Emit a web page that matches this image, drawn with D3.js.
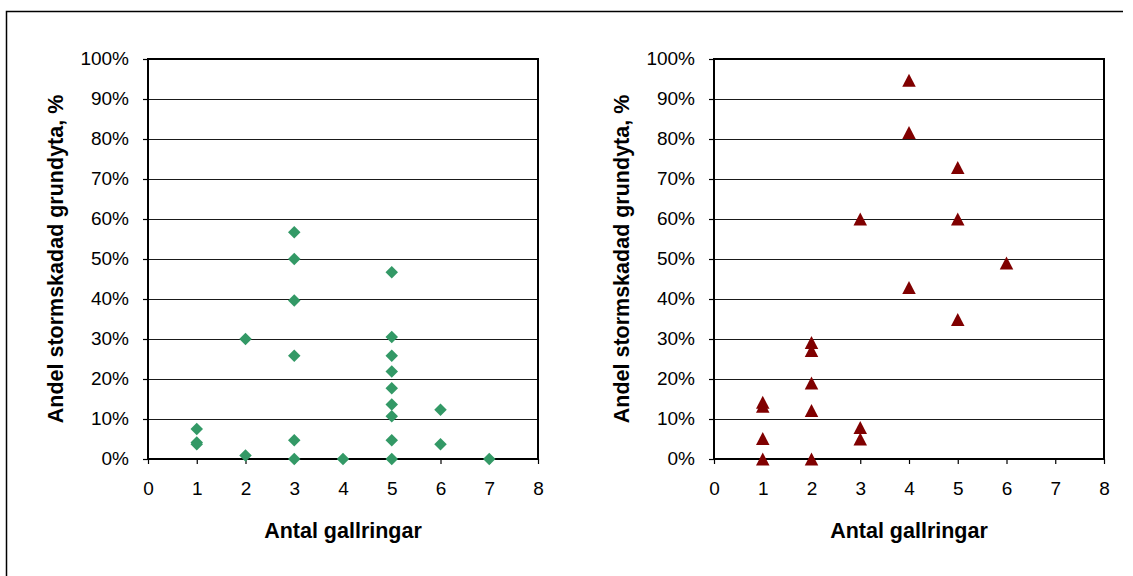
<!DOCTYPE html>
<html>
<head>
<meta charset="utf-8">
<script src="https://cdn.jsdelivr.net/npm/d3@7"></script>
<style>
  html, body { margin: 0; padding: 0; background: #fff; }
  svg { display: block; }
  text { font-family: "Liberation Sans", Arial, sans-serif; fill: #000; }
</style>
</head>
<body>
<svg id="chart" width="1133" height="576"></svg>
<script>
// Antal gallringar (number of thinnings) and share of storm-damaged basal area
const xTickValues = [0, 1, 2, 3, 4, 5, 6, 7, 8];
const yTickValues = [0, 0.1, 0.2, 0.3, 0.4, 0.5, 0.6, 0.7, 0.8, 0.9, 1.0];

const gallringarA = [1, 1, 1, 2, 2, 3, 3, 3, 3, 3, 3, 4, 5, 5, 5, 5, 5, 5, 5, 5, 5, 6, 6, 7];
const andelA = [0.075, 0.041, 0.037, 0.300, 0.009, 0.567, 0.500, 0.396, 0.258, 0.047, 0.0, 0.0,
                0.467, 0.305, 0.258, 0.219, 0.177, 0.136, 0.107, 0.047, 0.0, 0.123, 0.037, 0.0];

const gallringarB = [1, 1, 1, 1, 2, 2, 2, 2, 2, 3, 3, 3, 4, 4, 4, 5, 5, 5, 6];
const andelB = [0.142, 0.132, 0.051, 0.0, 0.291, 0.271, 0.190, 0.121, 0.0, 0.600, 0.079, 0.050,
                0.947, 0.816, 0.429, 0.729, 0.600, 0.349, 0.490];

const xTitle = "Antal gallringar";
const yTitle = "Andel stormskadad grundyta, %";

const svg = d3.select("#chart");

// outer chart frame (top and left edges)
svg.append("path")
  .attr("d", "M6.5,576 V11.5 H1123")
  .attr("fill", "none")
  .attr("stroke", "#000")
  .attr("stroke-width", 1.5);

function panel(opts) {
  const { left, right, top, bottom, xs, ys, marker, color } = opts;
  const g = svg.append("g");
  const x = d3.scaleLinear().domain([0, 8]).range([left, right]);
  const y = d3.scaleLinear().domain([0, 1]).range([bottom, top]);

  // horizontal gridlines
  g.append("g").selectAll("line")
    .data(yTickValues.filter(v => v > 0 && v < 1))
    .join("line")
    .attr("x1", left).attr("x2", right)
    .attr("y1", d => Math.round(y(d)) + 0.5).attr("y2", d => Math.round(y(d)) + 0.5)
    .attr("stroke", "#1a1a1a").attr("stroke-width", 1);

  // y axis
  const yAxis = d3.axisLeft(y).tickValues(yTickValues)
    .tickFormat(d3.format(".0%")).tickSize(5).tickPadding(14);
  const ga = g.append("g").attr("transform", `translate(${left},0)`).call(yAxis);
  ga.select(".domain").remove();
  ga.selectAll(".tick line").attr("stroke", "#000").attr("stroke-width", 1.2);
  ga.selectAll(".tick text").attr("font-size", 19).attr("font-family", "Liberation Sans, Arial, sans-serif")
    .attr("dy", "0.29em");

  // x axis
  const xAxis = d3.axisBottom(x).tickValues(xTickValues).tickSize(5).tickPadding(18);
  const gx = g.append("g").attr("transform", `translate(0,${bottom})`).call(xAxis);
  gx.select(".domain").remove();
  gx.selectAll(".tick line").attr("stroke", "#000").attr("stroke-width", 1.2);
  gx.selectAll(".tick text").attr("font-size", 19).attr("font-family", "Liberation Sans, Arial, sans-serif");

  // plot area border
  g.append("rect")
    .attr("x", left).attr("y", top)
    .attr("width", right - left).attr("height", bottom - top)
    .attr("fill", "none").attr("stroke", "#000").attr("stroke-width", 2);

  // markers
  const pts = xs.map((v, i) => ({ gx: v, val: ys[i] }));
  if (marker === "diamond") {
    const sym = d3.symbol().type(d3.symbolDiamond2).size(100);
    g.append("g").selectAll("path").data(pts).join("path")
      .attr("transform", d => `translate(${x(d.gx)},${y(d.val)})`)
      .attr("d", sym)
      .attr("fill", color);
  } else {
    const w = 13.5, h = 13;
    g.append("g").selectAll("path").data(pts).join("path")
      .attr("transform", d => `translate(${x(d.gx)},${y(d.val)})`)
      .attr("d", `M0,${-h / 2} L${w / 2},${h / 2} L${-w / 2},${h / 2} Z`)
      .attr("fill", color);
  }

  // axis titles
  g.append("text")
    .attr("x", (left + right) / 2).attr("y", bottom + 78.5)
    .attr("text-anchor", "middle")
    .attr("font-size", 21.5).attr("font-weight", "bold")
    .text(xTitle);
  g.append("text")
    .attr("transform", `translate(${opts.yTitleX},${(top + bottom) / 2}) rotate(-90)`)
    .attr("text-anchor", "middle")
    .attr("font-size", 21.5).attr("font-weight", "bold")
    .text(yTitle);
}

panel({ left: 148, right: 538, top: 59, bottom: 459,
        xs: gallringarA, ys: andelA, marker: "diamond", color: "#339966", yTitleX: 63 });
panel({ left: 714, right: 1104, top: 59, bottom: 459,
        xs: gallringarB, ys: andelB, marker: "triangle", color: "#800000", yTitleX: 629 });
</script>
</body>
</html>
